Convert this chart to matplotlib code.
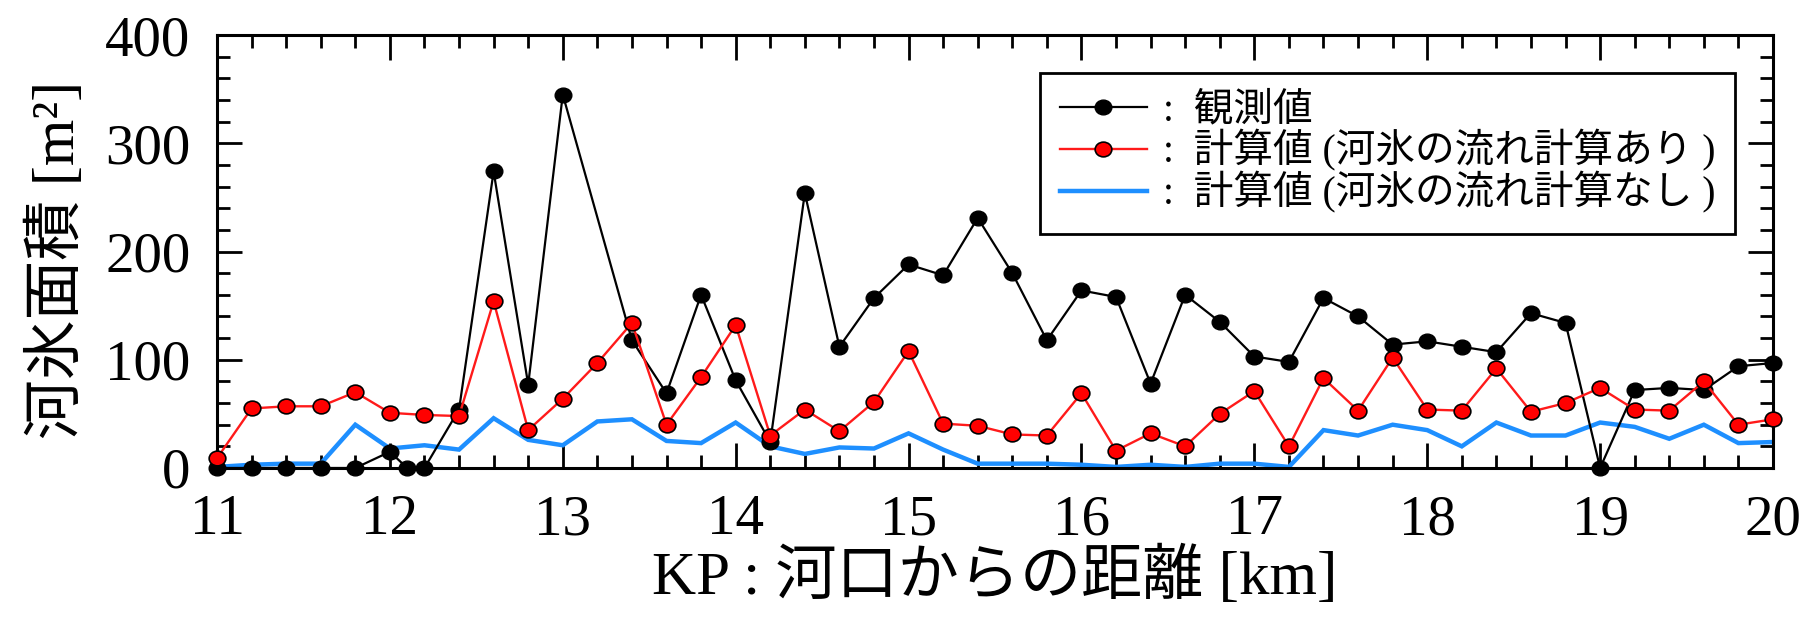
import matplotlib
matplotlib.use("Agg")
import matplotlib.pyplot as plt
from matplotlib.path import Path
from matplotlib.ticker import MultipleLocator

# Observed river-ice area along the channel (KP, km)
kp_obs = [11.0, 11.2, 11.4, 11.6, 11.8, 12.0, 12.1, 12.2, 12.4, 12.6, 12.8,
          13.0, 13.4, 13.6, 13.8, 14.0, 14.2, 14.4, 14.6, 14.8,
          15.0, 15.2, 15.4, 15.6, 15.8, 16.0, 16.2, 16.4, 16.6, 16.8,
          17.0, 17.2, 17.4, 17.6, 17.8, 18.0, 18.2, 18.4, 18.6, 18.8,
          19.0, 19.2, 19.4, 19.6, 19.8, 20.0]
area_obs = [0, 0, 0, 0, 0, 15, 0, 0, 54, 274, 77,
            345, 118, 69, 160, 81, 24, 254, 112, 157,
            188, 178, 231, 180, 118, 164, 158, 78, 160, 135,
            103, 98, 157, 140, 114, 117, 112, 107, 143, 134,
            0, 72, 74, 72, 94, 97]

# Computed sections
kp_calc = [11.0, 11.2, 11.4, 11.6, 11.8, 12.0, 12.2, 12.4, 12.6, 12.8,
           13.0, 13.2, 13.4, 13.6, 13.8, 14.0, 14.2, 14.4, 14.6, 14.8,
           15.0, 15.2, 15.4, 15.6, 15.8, 16.0, 16.2, 16.4, 16.6, 16.8,
           17.0, 17.2, 17.4, 17.6, 17.8, 18.0, 18.2, 18.4, 18.6, 18.8,
           19.0, 19.2, 19.4, 19.6, 19.8, 20.0]
# with ice-flow computation
area_with_flow = [9, 55, 57, 57, 70, 51, 49, 48, 154, 35,
                  64, 97, 134, 40, 84, 132, 30, 54, 34, 61,
                  108, 41, 39, 31, 30, 69, 16, 32, 20, 50,
                  71, 20, 83, 53, 102, 54, 53, 92, 52, 60,
                  74, 54, 53, 80, 40, 45]
# without ice-flow computation
area_without_flow = [1, 3, 4, 4, 40, 18, 21, 17, 46, 26,
                     21, 43, 45, 25, 23, 42, 20, 13, 19, 18,
                     32, 17, 4, 4, 4, 3, 1, 3, 1, 4,
                     4, 1, 35, 30, 40, 35, 20, 42, 30, 30,
                     42, 38, 27, 40, 23, 24]

labels = [":  観測値",
          ":  計算値 (河氷の流れ計算あり )",
          ":  計算値 (河氷の流れ計算なし )"]
x_label = "KP : 河口からの距離 [km]"
y_label = "河氷面積 [m²]"

fam = ["Liberation Serif", "Noto Sans CJK JP", "DejaVu Sans"]

# slightly wide elliptical marker
_c = Path.unit_circle()
ellipse = Path(_c.vertices * [1.13, 1.0], _c.codes)

fig = plt.figure(figsize=(18.14, 6.4), dpi=100)
ax = fig.add_axes([217 / 1814, 1 - 468 / 640, (1773 - 217) / 1814, (468 - 35) / 640])

h_blue, = ax.plot(kp_calc, area_without_flow, color="#1e8fff", lw=3.2,
                  zorder=2, solid_joinstyle="miter")
h_black, = ax.plot(kp_obs, area_obs, color="black", lw=1.6, marker=ellipse,
                   ms=12, mfc="black", mec="black", mew=1.0, zorder=3, clip_on=False)
h_red, = ax.plot(kp_calc, area_with_flow, color="#ff1a1a", lw=1.7, marker=ellipse,
                 ms=12, mfc="#ff0000", mec="black", mew=1.2, zorder=4, clip_on=False)

ax.set_xlim(11, 20)
ax.set_ylim(0, 400)
ax.xaxis.set_major_locator(MultipleLocator(1))
ax.xaxis.set_minor_locator(MultipleLocator(0.2))
ax.yaxis.set_major_locator(MultipleLocator(100))
ax.yaxis.set_minor_locator(MultipleLocator(20))

ax.tick_params(which="both", direction="in", top=True, right=True, width=2)
ax.tick_params(which="major", length=18, pad=19)
ax.tick_params(which="minor", length=9.5)
for lab in ax.get_xticklabels() + ax.get_yticklabels():
    lab.set_fontfamily(fam)
    lab.set_fontsize(41)

for sp in ax.spines.values():
    sp.set_linewidth(2.2)

ax.set_xlabel(x_label, family=fam, fontsize=44, labelpad=1)
ax.set_ylabel(y_label, family=fam, fontsize=43)
ax.yaxis.set_label_coords((87 - 217) / 1556, 0.48)

leg = ax.legend([h_black, h_red, h_blue], labels,
                loc="upper left", bbox_to_anchor=((1040 - 217) / 1556, (468 - 73) / 433),
                borderaxespad=0, prop={"family": fam, "size": 28.5},
                handlelength=2.2, handletextpad=0.4, labelspacing=0.0,
                borderpad=0.5, fancybox=False, framealpha=1)
leg.get_frame().set_edgecolor("black")
leg.get_frame().set_linewidth(2.0)

fig.savefig("out.png", dpi=100)
